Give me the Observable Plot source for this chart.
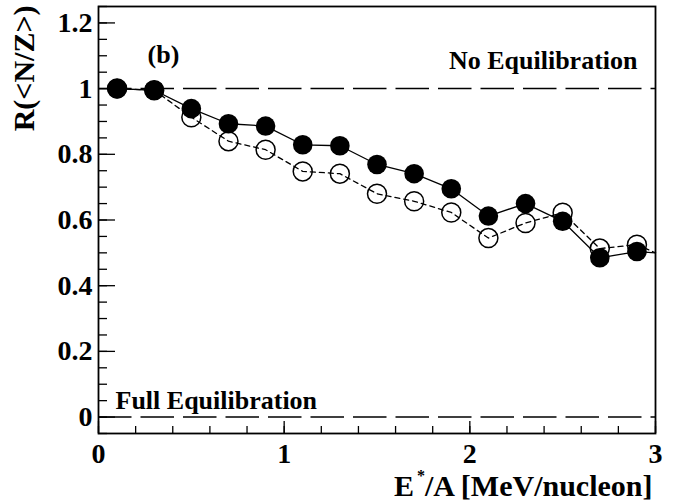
<!DOCTYPE html>
<html><head><meta charset="utf-8">
<script src="https://cdn.jsdelivr.net/npm/d3@7"></script>
<script src="https://cdn.jsdelivr.net/npm/@observablehq/plot@0.6"></script>
<style>body{margin:0;background:#fff} svg{display:block}</style>
</head><body><div id="chart"></div>
<script>
// Excitation energy per nucleon (bin centres)
const energy = [0.1, 0.3, 0.5, 0.7, 0.9, 1.1, 1.3, 1.5, 1.7, 1.9, 2.1, 2.3, 2.5, 2.7, 2.9];
// Filled circles (solid line)
const filledR = [1.000, 0.995, 0.939, 0.893, 0.886, 0.829, 0.826, 0.769, 0.741, 0.695, 0.612, 0.650, 0.596, 0.485, 0.504];
// Open circles (dashed line)
const openR   = [1.000, 0.995, 0.913, 0.840, 0.814, 0.748, 0.741, 0.680, 0.657, 0.623, 0.545, 0.591, 0.622, 0.513, 0.525];
// Where the connecting lines leave the frame on the right
const edgeEnergy = [3.0];
const filledEdge = [0.500];
const openEdge = [0.500];

const yMajorTicks = [0, 0.2, 0.4, 0.6, 0.8, 1, 1.2];
const yMinorTicks = d3.range(-1, 26).map(i => i * 0.05);
const xMajorTicks = [0, 1, 2, 3];
const xMinorTicks = d3.range(0, 16).map(i => i * 0.2);
const refLevels = [1, 0];
const panelLabel = ["(b)"];
const noEqLabel = ["No Equilibration"];
const fullEqLabel = ["Full Equilibration"];
const xTitle = ["E*/A [MeV/nucleon]"];
const yTitle = ["R(<N/Z>)"];

const filled = energy.map((e, i) => ({e, r: filledR[i]}));
const open = energy.map((e, i) => ({e, r: openR[i]}));
const filledLine = filled.concat(edgeEnergy.map((e, i) => ({e, r: filledEdge[i]})));
const openLine = open.concat(edgeEnergy.map((e, i) => ({e, r: openEdge[i]})));

const font = "'Liberation Serif', 'Times New Roman', serif";

const chart = Plot.plot({
  width: 685, height: 504,
  marginLeft: 98, marginRight: 30, marginTop: 6, marginBottom: 71,
  x: {domain: [0, 3]},
  y: {domain: [-0.05, 1.25]},
  style: {fontFamily: font, background: "white", color: "black", overflow: "visible"},
  marks: [
    Plot.ruleY(refLevels, {stroke: "black", strokeWidth: 1.5, strokeDasharray: "33.5,9"}),
    Plot.line(openLine, {x: "e", y: "r", stroke: "black", strokeWidth: 1.3, strokeDasharray: "5,4"}),
    Plot.dot(open, {x: "e", y: "r", r: 9.5, stroke: "black", strokeWidth: 1.5, fill: "none"}),
    Plot.line(filledLine, {x: "e", y: "r", stroke: "black", strokeWidth: 1.3}),
    Plot.dot(filled, {x: "e", y: "r", r: 9.8, fill: "black", stroke: "none"}),
    Plot.axisY(yMinorTicks, {tickSize: -9, tickFormat: () => "", label: null, strokeWidth: 1.3}),
    Plot.axisY(yMajorTicks, {tickSize: -17, tickPadding: 23, fontSize: 28, fontWeight: "bold", label: null, tickFormat: d => String(d), strokeWidth: 1.3}),
    Plot.axisX(xMinorTicks, {tickSize: -7, tickFormat: () => "", label: null, strokeWidth: 1.3}),
    Plot.axisX(xMajorTicks, {tickSize: -12, tickPadding: 22, fontSize: 28, fontWeight: "bold", label: null, tickFormat: d => String(d), strokeWidth: 1.3}),
    Plot.frame({stroke: "black", strokeWidth: 1.8}),
    Plot.text(panelLabel, {text: d => d, frameAnchor: "top-left", dx: 65, dy: 56, fontSize: 26, fontWeight: "bold", textAnchor: "middle", lineAnchor: "bottom"}),
    Plot.text(noEqLabel, {text: d => d, frameAnchor: "top-right", dx: -18, dy: 62, fontSize: 26, fontWeight: "bold", textAnchor: "end", lineAnchor: "bottom"}),
    Plot.text(fullEqLabel, {text: d => d, frameAnchor: "bottom-left", dx: 17, dy: -25, fontSize: 26, fontWeight: "bold", textAnchor: "start", lineAnchor: "bottom"}),
    Plot.text(xTitle, {text: d => d, frameAnchor: "bottom-right", dx: -3, dy: 62, fontSize: 30, fontWeight: "bold", textAnchor: "end", lineAnchor: "bottom"}),
    Plot.text(yTitle, {text: d => d, frameAnchor: "top-left", dx: -74, dy: -1, rotate: -90, fontSize: 30, fontWeight: "bold", textAnchor: "end", lineAnchor: "middle"})
  ]
});
document.getElementById("chart").appendChild(chart);

// superscript asterisk in the x title
d3.select(chart).selectAll("text").each(function() {
  if (this.textContent === xTitle[0]) {
    const t = d3.select(this);
    t.text(null);
    t.append("tspan").text("E");
    t.append("tspan").attr("font-size", 16).attr("dx", 3).attr("dy", -15).text("*");
    t.append("tspan").attr("dy", 15).text("/A [MeV/nucleon]");
  }
});
</script>
</body></html>
